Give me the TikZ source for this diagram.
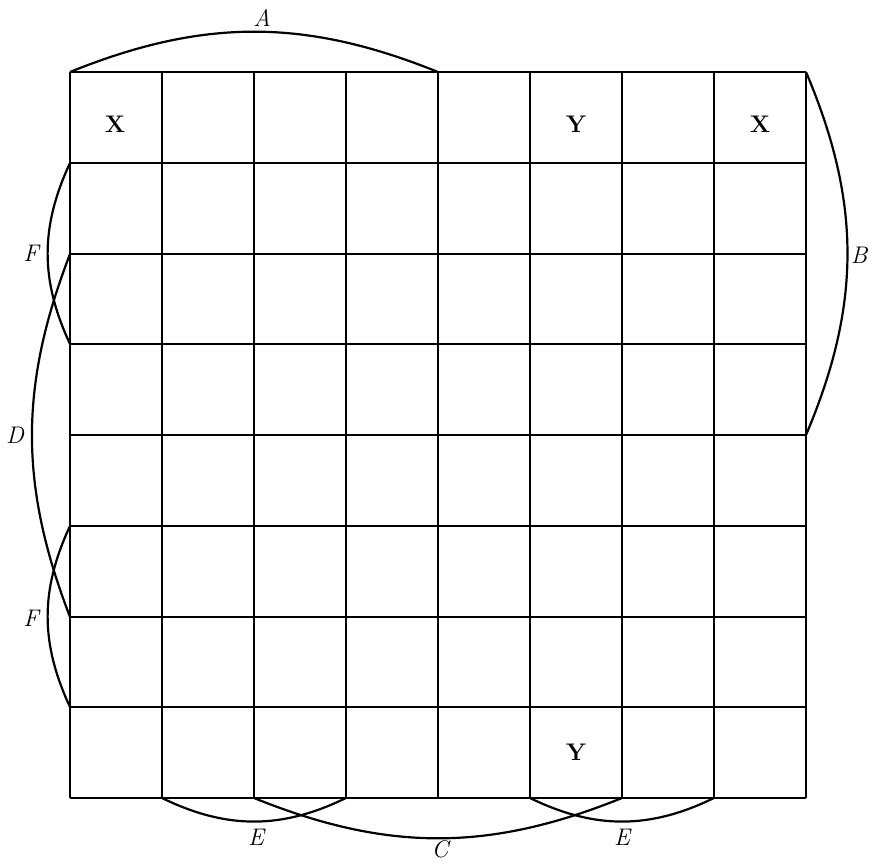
\documentclass[tikz,border=0pt]{standalone}
\begin{document}
\begin{tikzpicture}[x=1pt,y=1pt,
  gridline/.style={line width=2pt},
  arcline/.style={line width=2.2pt},
  lab/.style={inner sep=0pt,font=\fontsize{24}{29}\selectfont\itshape},
  cell/.style={inner sep=0pt,font=\fontsize{24}{29}\selectfont\bfseries}]
\useasboundingbox (0,0) rectangle (871,863);
% grid
\foreach \x in {70,162,254,346,438,530,622,714,806}
  \draw[gridline] (\x,65) -- (\x,791);
\foreach \y in {791,700,609,519,428,337,246,156,65}
  \draw[gridline] (70,\y) -- (806,\y);
% named grid points
\coordinate (t0) at (70,791);
\coordinate (t4) at (438,791);
\coordinate (t8) at (806,791);
\coordinate (r4) at (806,428);
\coordinate (l1) at (70,700);
\coordinate (l2) at (70,609);
\coordinate (l3) at (70,519);
\coordinate (l5) at (70,337);
\coordinate (l6) at (70,246);
\coordinate (l7) at (70,156);
\coordinate (b1) at (162,65);
\coordinate (b2) at (254,65);
\coordinate (b3) at (346,65);
\coordinate (b5) at (530,65);
\coordinate (b6) at (622,65);
\coordinate (b7) at (714,65);
% arcs
\draw[arcline] (t0) to[bend left=22] (t4);
\draw[arcline] (t8) to[bend left=23] (r4);
\draw[arcline] (l1) to[bend right=25] (l3);
\draw[arcline] (l2) to[bend right=21] (l6);
\draw[arcline] (l5) to[bend right=25] (l7);
\draw[arcline] (b1) to[bend right=26] (b3);
\draw[arcline] (b2) to[bend right=22] (b6);
\draw[arcline] (b5) to[bend right=26] (b7);
% labels
\node[lab] (labA) at (262,845) {A};
\node[lab] (labB) at (859,608) {B};
\node[lab] (labF1) at (31,610) {F};
\node[lab] (labD) at (15,428) {D};
\node[lab] (labF2) at (31,245) {F};
\node[lab] (labE1) at (256,26) {E};
\node[lab] (labC) at (440,14) {C};
\node[lab] (labE2) at (622,26) {E};
% cell letters
\node[cell] (x1) at (115,739) {X};
\node[cell] (y1) at (576,739) {Y};
\node[cell] (x2) at (760,739) {X};
\node[cell] (y2) at (576,111) {Y};
\end{tikzpicture}
\end{document}
